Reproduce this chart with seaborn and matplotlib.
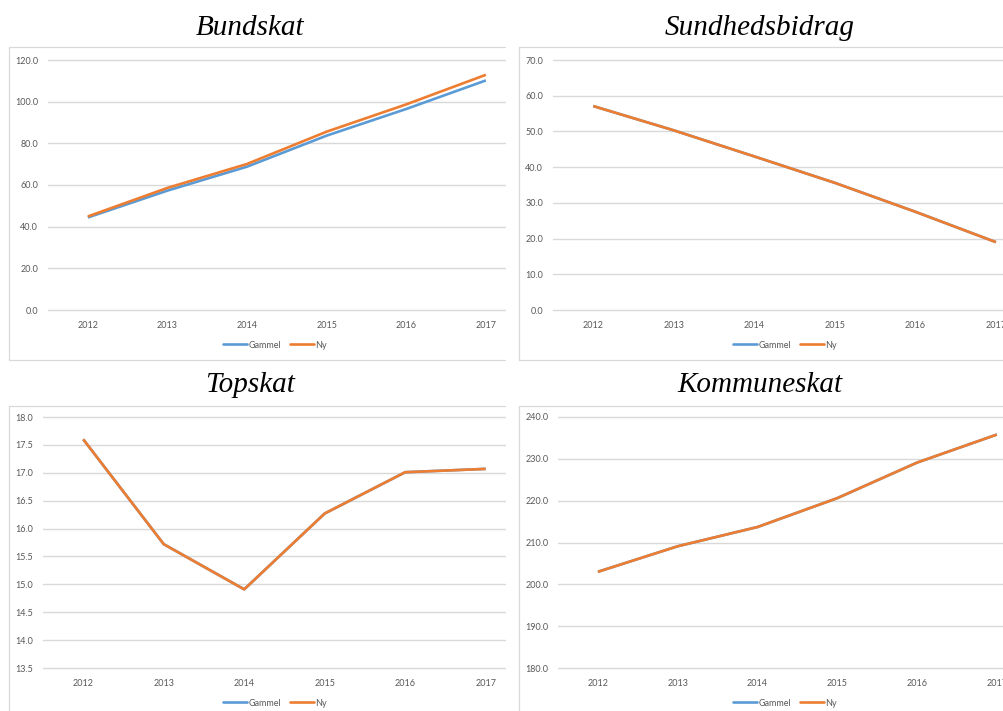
import matplotlib
matplotlib.use("Agg")
import matplotlib.pyplot as plt
from matplotlib.lines import Line2D
import seaborn as sns
import pandas as pd

years = ["2012", "2013", "2014", "2015", "2016", "2017"]
series_names = ["Gammel", "Ny"]

bund_gammel = [44.4, 57.3, 68.8, 83.7, 96.5, 110.2]
bund_ny = [44.9, 58.6, 70.1, 85.6, 98.7, 112.9]
sund_gammel = [57.1, 50.3, 43.0, 35.6, 27.5, 19.0]
sund_ny = [57.1, 50.3, 43.0, 35.6, 27.5, 19.0]
top_gammel = [17.60, 15.72, 14.91, 16.27, 17.01, 17.07]
top_ny = [17.60, 15.72, 14.91, 16.27, 17.01, 17.07]
komm_gammel = [203.0, 209.1, 213.7, 220.6, 229.1, 235.8]
komm_ny = [203.0, 209.1, 213.7, 220.6, 229.1, 235.8]

titles = ["Bundskat", "Sundhedsbidrag", "Topskat", "Kommuneskat"]

sns.set_style("white")
plt.rcParams["font.family"] = ["Lato", "DejaVu Sans"]

W, H = 1004, 711
fig = plt.figure(figsize=(W / 100, H / 100), dpi=100)

palette = {"Gammel": "#5b9bd5", "Ny": "#ed7d31"}
grid_c = "#d9d9d9"
txt_c = "#595959"

panels = [
    (titles[0], bund_gammel, bund_ny, (48, 505, 60, 310), (0, 120), 20, 5.24, (250, 28), (275, 345)),
    (titles[1], sund_gammel, sund_ny, (553, 1004, 60, 310), (0, 70), 10, 5.10, (760, 28), (785, 345)),
    (titles[2], top_gammel, top_ny, (43, 505, 417, 668), (13.5, 18.0), 0.5, 5.24, (250, 385), (275, 703)),
    (titles[3], komm_gammel, komm_ny, (558, 1004, 417, 668), (180, 240), 10, 5.09, (760, 385), (785, 703)),
]

for title, g, n, (l, r, t, b), ylim, ystep, xr, (tx, ty), (lx, ly) in panels:
    ax = fig.add_axes([l / W, 1 - b / H, (r - l) / W, (b - t) / H])
    df = pd.DataFrame({
        "x": list(range(len(years))) * 2,
        "value": list(g) + list(n),
        "Serie": [series_names[0]] * len(years) + [series_names[1]] * len(years),
    })
    sns.lineplot(data=df, x="x", y="value", hue="Serie", palette=palette,
                 hue_order=series_names, linewidth=1.9, legend=False, ax=ax,
                 clip_on=False, solid_capstyle="butt")
    ax.set_xlim(-0.5, xr)
    ax.set_ylim(*ylim)
    nt = int(round((ylim[1] - ylim[0]) / ystep))
    yt = [ylim[0] + i * ystep for i in range(nt + 1)]
    ax.set_yticks(yt)
    ax.set_yticklabels([f"{v:.1f}" for v in yt])
    ax.set_xticks(range(len(years)))
    ax.set_xticklabels(years)
    ax.set_xlabel("")
    ax.set_ylabel("")
    for s in ax.spines.values():
        s.set_visible(False)
    ax.grid(axis="y", color=grid_c, linewidth=1.0)
    for gl in ax.get_ygridlines():
        gl.set_clip_on(False)
    ax.set_axisbelow(True)
    ax.tick_params(axis="both", length=0, labelsize=6.5, colors=txt_c)
    ax.tick_params(axis="y", pad=7)
    ax.tick_params(axis="x", pad=8)
    fig.text(tx / W, 1 - ty / H, title, ha="center", va="center", color="black",
             fontsize=21, style="italic", family=["Liberation Serif", "DejaVu Serif"])
    handles = [Line2D([0], [0], color=palette[s], lw=1.9) for s in series_names]
    leg = fig.legend(handles, series_names, loc="center",
                     bbox_to_anchor=(lx / W, 1 - ly / H), ncol=2, frameon=False,
                     fontsize=6.5, handlelength=2.7, handletextpad=0.1,
                     columnspacing=1.0, borderpad=0)
    for ttx in leg.get_texts():
        ttx.set_color(txt_c)

frame_c = "#d9d9d9"
def fline(x0, y0, x1, y1):
    fig.add_artist(Line2D([x0 / W, x1 / W], [1 - y0 / H, 1 - y1 / H],
                          color=frame_c, lw=0.9, transform=fig.transFigure))

fline(9, 47, 9, 360); fline(9, 47, 505, 47); fline(9, 360, 505, 360)
fline(519, 47, 519, 360); fline(519, 47, 1004, 47); fline(519, 360, 1004, 360)
fline(9, 406, 9, 711); fline(9, 406, 505, 406)
fline(519, 406, 519, 711); fline(519, 406, 1004, 406)

fig.savefig("out.png", dpi=100, facecolor="white")
